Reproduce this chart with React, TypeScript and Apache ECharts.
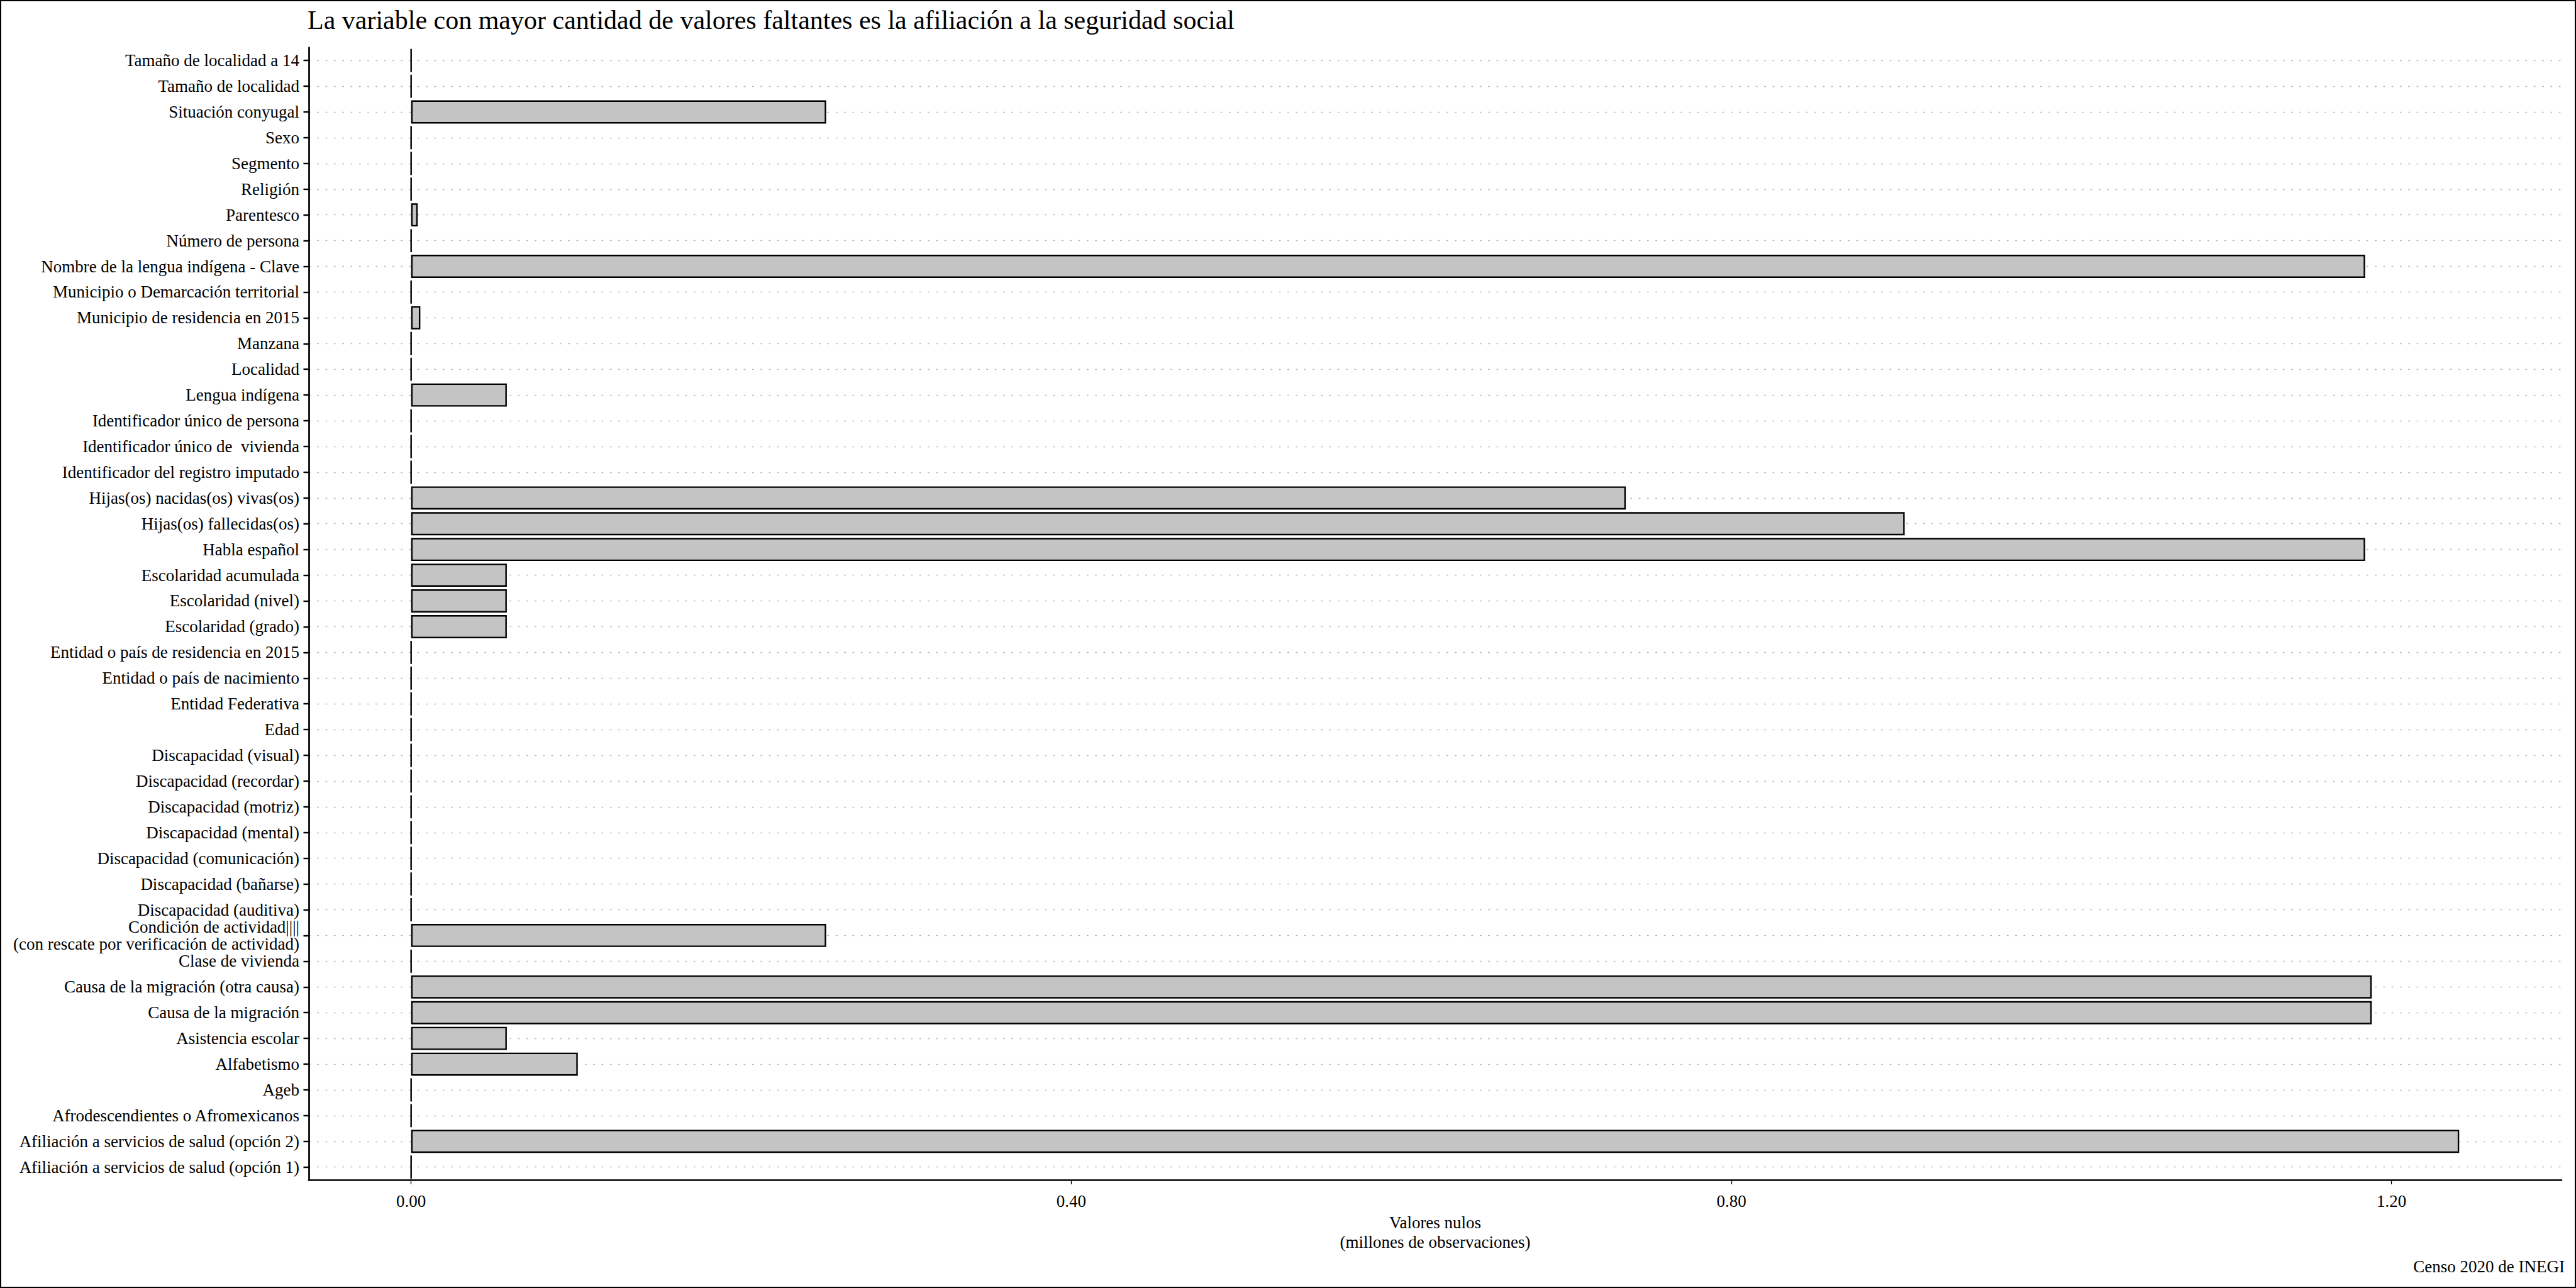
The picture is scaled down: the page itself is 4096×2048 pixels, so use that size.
import React, { useEffect, useRef } from "react";
import * as echarts from "echarts";

const TITLE =
  "La variable con mayor cantidad de valores faltantes es la afiliación a la seguridad social";
const X_NAME = "Valores nulos\n(millones de observaciones)";
const CAPTION = "Censo 2020 de INEGI";

const CATEGORIES = [
  "Tamaño de localidad a 14",
  "Tamaño de localidad",
  "Situación conyugal",
  "Sexo",
  "Segmento",
  "Religión",
  "Parentesco",
  "Número de persona",
  "Nombre de la lengua indígena - Clave",
  "Municipio o Demarcación territorial",
  "Municipio de residencia en 2015",
  "Manzana",
  "Localidad",
  "Lengua indígena",
  "Identificador único de persona",
  "Identificador único de  vivienda",
  "Identificador del registro imputado",
  "Hijas(os) nacidas(os) vivas(os)",
  "Hijas(os) fallecidas(os)",
  "Habla español",
  "Escolaridad acumulada",
  "Escolaridad (nivel)",
  "Escolaridad (grado)",
  "Entidad o país de residencia en 2015",
  "Entidad o país de nacimiento",
  "Entidad Federativa",
  "Edad",
  "Discapacidad (visual)",
  "Discapacidad (recordar)",
  "Discapacidad (motriz)",
  "Discapacidad (mental)",
  "Discapacidad (comunicación)",
  "Discapacidad (bañarse)",
  "Discapacidad (auditiva)",
  "Condición de actividad||||\n(con rescate por verificación de actividad)",
  "Clase de vivienda",
  "Causa de la migración (otra causa)",
  "Causa de la migración",
  "Asistencia escolar",
  "Alfabetismo",
  "Ageb",
  "Afrodescendientes o Afromexicanos",
  "Afiliación a servicios de salud (opción 2)",
  "Afiliación a servicios de salud (opción 1)",
];

// millones de valores nulos
const VALUES = [
  0, 0, 0.2515, 0, 0, 0, 0.004, 0, 1.184, 0, 0.0056, 0, 0, 0.058, 0, 0, 0,
  0.736, 0.905, 1.184, 0.058, 0.058, 0.058, 0, 0, 0, 0, 0, 0, 0, 0, 0, 0, 0,
  0.2515, 0, 1.188, 1.188, 0.058, 0.101, 0, 0, 1.241, 0,
];

const X_TICKS = [0, 0.4, 0.8, 1.2];
const X_MIN = -0.062;
const X_MAX = 1.303;

const FONT = "Liberation Serif";

export default function App() {
  const ref = useRef<HTMLDivElement>(null);

  useEffect(() => {
    document.body.style.margin = "0";
    const chart = echarts.init(ref.current as HTMLDivElement, null, {
      renderer: "svg",
    });
    chart.setOption({
      animation: false,
      backgroundColor: "#ffffff",
      textStyle: { fontFamily: FONT, color: "#000" },
      grid: {
        left: 491,
        right: 23,
        top: 75.7,
        bottom: 171.8,
        containLabel: false,
        outerBoundsMode: "none",
      },
      xAxis: {
        type: "value",
        min: X_MIN,
        max: X_MAX,
        axisLine: {
          show: true,
          onZero: false,
          lineStyle: { color: "#000", width: 2.7 },
        },
        axisTick: {
          show: true,
          customValues: X_TICKS,
          length: 7,
          lineStyle: { color: "#000", width: 1.3 },
        },
        axisLabel: {
          show: true,
          customValues: X_TICKS,
          formatter: (v: number) => v.toFixed(2),
          color: "#000",
          fontFamily: FONT,
          fontSize: 27,
          margin: 20,
        },
        splitLine: { show: false },
        name: X_NAME,
        nameLocation: "middle",
        nameGap: 47.5,
        nameTextStyle: {
          color: "#000",
          fontFamily: FONT,
          fontSize: 27,
          lineHeight: 31,
          align: "center",
        },
      },
      yAxis: {
        type: "category",
        data: CATEGORIES,
        inverse: true,
        axisLine: {
          show: true,
          onZero: false,
          lineStyle: { color: "#000", width: 2.7 },
        },
        axisTick: {
          show: true,
          alignWithLabel: true,
          interval: 0,
          length: 8.5,
          lineStyle: { color: "#000", width: 2.4 },
        },
        axisLabel: {
          show: true,
          interval: 0,
          margin: 15,
          color: "#000",
          fontFamily: FONT,
          fontSize: 27,
          lineHeight: 27,
        },
        splitLine: {
          show: true,
          alignWithLabel: true,
          interval: 0,
          lineStyle: { color: "#b3b3b3", width: 1.4, type: [2.7, 10.6] },
        },
      },
      series: [
        {
          type: "bar",
          data: VALUES,
          barWidth: "90%",
          silent: true,
          itemStyle: { color: "#c4c4c4", borderColor: "#000", borderWidth: 2.4 },
        },
      ],
      graphic: [
        {
          type: "rect",
          silent: true,
          shape: { x: 1, y: 1, width: 4094, height: 2046 },
          style: { fill: "none", stroke: "#000", lineWidth: 2 },
        },
        {
          type: "text",
          silent: true,
          x: 489,
          y: 32,
          style: {
            text: TITLE,
            fontFamily: FONT,
            fontSize: 42,
            fill: "#000",
            align: "left",
            verticalAlign: "middle",
            textAlign: "left",
            textVerticalAlign: "middle",
          },
        },
        {
          type: "text",
          silent: true,
          x: 4078,
          y: 2014,
          style: {
            text: CAPTION,
            fontFamily: FONT,
            fontSize: 27,
            fill: "#000",
            align: "right",
            verticalAlign: "middle",
            textAlign: "right",
            textVerticalAlign: "middle",
          },
        },
      ],
    });
    return () => chart.dispose();
  }, []);

  return <div ref={ref} style={{ width: 4096, height: 2048 }} />;
}
